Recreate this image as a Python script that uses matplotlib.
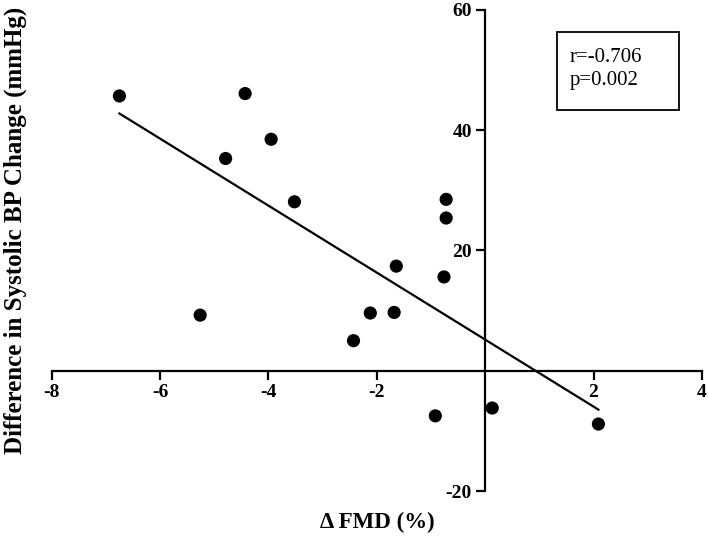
import numpy as np
import matplotlib
matplotlib.use("Agg")
import matplotlib.pyplot as plt
from matplotlib.patches import Rectangle

# Data
fmd_change = [-6.75, -4.43, -4.79, -3.95, -3.52, -5.26, -2.43, -2.12, -1.68,
              -1.64, -0.76, -0.72, -0.72, -0.92, 0.13, 2.09]
sbp_diff = [45.7, 46.1, 35.3, 38.5, 28.1, 9.25, 5.0, 9.6, 9.7,
            17.4, 15.6, 25.4, 28.5, -7.5, -6.2, -8.86]
x_ticks = [-8, -6, -4, -2, 2, 4]
y_ticks = [-20, 20, 40, 60]
r_text = "r=-0.706"
p_text = "p=0.002"
x_label = "\u0394 FMD (%)"
y_label = "Difference in Systolic BP Change (mmHg)"

plt.rcParams['font.family'] = ['Liberation Serif', 'DejaVu Serif']

fig = plt.figure(figsize=(7.09, 5.54), dpi=100)
ax = fig.add_axes([0.0729, 0.1137, 0.9171, 0.8683])

x = np.array(fmd_change)
y = np.array(sbp_diff)
ax.scatter(x, y, s=90, color='black', zorder=3, edgecolors='none')

slope, intercept = np.polyfit(x, y, 1)
xl = np.array([x.min(), x.max()])
ax.plot(xl, slope * xl + intercept, color='black', lw=1.6, zorder=2)

ax.set_xlim(-8, 4)
ax.set_ylim(-20, 60)
ax.spines['left'].set_position(('data', 0))
ax.spines['bottom'].set_position(('data', 0))
ax.spines['right'].set_visible(False)
ax.spines['top'].set_visible(False)
for s in ('left', 'bottom'):
    ax.spines[s].set_linewidth(1.6)

ax.set_xticks(x_ticks)
ax.set_yticks(y_ticks)
ax.set_xticklabels([str(t) for t in x_ticks], fontweight='bold', fontsize=14)
ax.set_yticklabels([str(t) for t in y_ticks], fontweight='bold', fontsize=14)
ax.tick_params(axis='both', direction='out', length=6.5, width=1.6, pad=3)

fig.text(0.532, 0.057, x_label, ha='center', va='center', fontsize=16.5, fontweight='bold')
fig.text(0.022, 0.585, y_label, ha='center', va='center', rotation=90,
         fontsize=18, fontweight='bold')

rect = Rectangle((0.785, 0.801), 0.173, 0.141, transform=fig.transFigure,
                 fill=False, edgecolor='black', lw=1.3)
fig.patches.append(rect)
fig.text(0.804, 0.888, r_text, ha='left', va='baseline', fontsize=15)
fig.text(0.804, 0.847, p_text, ha='left', va='baseline', fontsize=15)

fig.savefig("out.png", dpi=100)
